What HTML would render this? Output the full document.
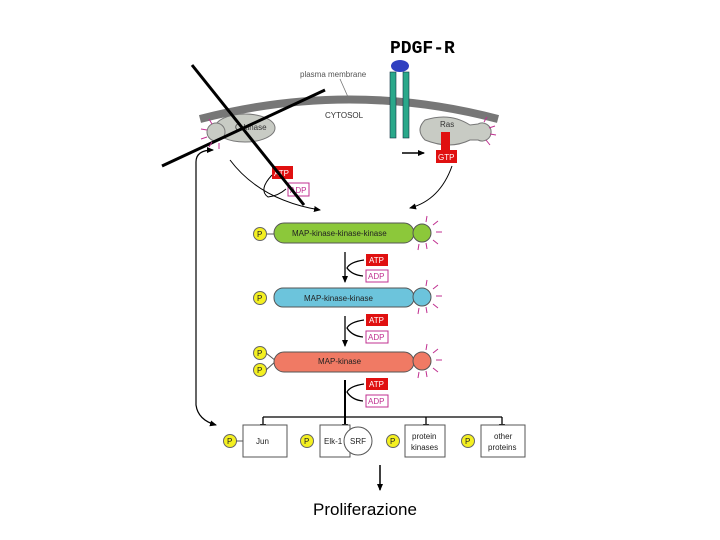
<!DOCTYPE html>
<html><head><style>body{margin:0;background:#fff}svg{display:block}</style></head><body>
<svg width="720" height="540" viewBox="0 0 720 540" xmlns="http://www.w3.org/2000/svg" font-family="Liberation Sans, sans-serif">
<defs><marker id="a" markerUnits="userSpaceOnUse" markerWidth="8" markerHeight="8" refX="6" refY="3" orient="auto"><path d="M0,0 L7,3 L0,6z" fill="#000"/></marker>
<marker id="s" markerUnits="userSpaceOnUse" markerWidth="8" markerHeight="8" refX="1" refY="3" orient="auto"><path d="M7,0 L0,3 L7,6z" fill="#000"/></marker></defs>
<text x="390" y="53" font-size="18" font-family="Liberation Mono, monospace" font-weight="bold">PDGF-R</text>
<text x="300" y="77" font-size="8" fill="#555">plasma membrane</text>
<line x1="340" y1="79" x2="348" y2="97" stroke="#777" stroke-width="0.8"/>
<path d="M200,119 Q350,80 498,119" stroke="#777" stroke-width="8" fill="none"/>
<text x="325" y="118" font-size="8" fill="#333">CYTOSOL</text>
<rect x="390" y="72" width="6" height="66" fill="#2aa88a" stroke="#134" stroke-width="0.6"/>
<rect x="403" y="72" width="6" height="66" fill="#2aa88a" stroke="#134" stroke-width="0.6"/>
<ellipse cx="400" cy="66" rx="9" ry="6" fill="#3040c0"/>
<ellipse cx="245" cy="128" rx="30" ry="14" fill="#c8cbc4" stroke="#777"/>
<circle cx="216" cy="132" r="9" fill="#c8cbc4" stroke="#777"/>
<text x="235" y="130" font-size="8" fill="#333">C-kinase</text>
<path d="M425,120 Q450,112 470,125 L478,124 A9 9 0 1 1 478,140 L470,140 Q450,150 425,140 Q415,130 425,120z" fill="#c8cbc4" stroke="#777"/>
<text x="440" y="127" font-size="8" fill="#333">Ras</text>
<rect x="441" y="132" width="9" height="18" fill="#e01010"/>
<rect x="436" y="150" width="21" height="13" fill="#e01010"/>
<text x="438" y="160" font-size="8" fill="#fff">GTP</text>
<line x1="402" y1="153" x2="424" y2="153" stroke="#000" stroke-width="1.5" marker-end="url(#a)"/>
<path d="M452,166 Q440,200 410,208" stroke="#000" fill="none" marker-end="url(#a)"/>
<path d="M230,160 Q260,200 320,210" stroke="#000" fill="none" marker-end="url(#a)"/>
<rect x="272" y="166" width="21" height="13" fill="#e01010"/>
<text x="274" y="176" font-size="8" fill="#fff">ATP</text>
<rect x="288" y="183" width="21" height="13" fill="#fff" stroke="#c03090"/>
<text x="290" y="193" font-size="8" fill="#c03090">ADP</text>
<path d="M272,175 Q258,190 268,197 Q278,196 286,189" stroke="#000" fill="none"/>
<line x1="192" y1="65" x2="304" y2="205" stroke="#000" stroke-width="3"/>
<line x1="162" y1="166" x2="325" y2="90" stroke="#000" stroke-width="3"/>
<path d="M213,150 Q196,150 196,162 L196,405 Q198,420 216,425" stroke="#000" stroke-width="1.2" fill="none" marker-start="url(#s)" marker-end="url(#a)"/>
<g font-size="8" fill="#222">
<line x1="266" y1="234" x2="276" y2="234" stroke="#555"/>
<circle cx="260" cy="234" r="6.5" fill="#f4f020" stroke="#666"/><text x="257" y="237">P</text>
<rect x="274" y="223" width="140" height="20" rx="10" fill="#8cc83a" stroke="#555"/>
<circle cx="422" cy="233" r="9" fill="#8cc83a" stroke="#555"/>
<text x="292" y="236">MAP-kinase-kinase-kinase</text>
<circle cx="260" cy="298" r="6.5" fill="#f4f020" stroke="#666"/><text x="257" y="301">P</text>
<rect x="274" y="288" width="140" height="19" rx="9" fill="#6cc4dc" stroke="#555"/>
<circle cx="422" cy="297" r="9" fill="#6cc4dc" stroke="#555"/>
<text x="304" y="301">MAP-kinase-kinase</text>
<circle cx="260" cy="353" r="6.5" fill="#f4f020" stroke="#666"/><text x="257" y="356">P</text>
<circle cx="260" cy="370" r="6.5" fill="#f4f020" stroke="#666"/><text x="257" y="373">P</text>
<path d="M266,353 L276,361 L266,370" stroke="#555" fill="none"/>
<rect x="274" y="352" width="140" height="20" rx="10" fill="#f07a64" stroke="#555"/>
<circle cx="422" cy="361" r="9" fill="#f07a64" stroke="#555"/>
<text x="318" y="364">MAP-kinase</text>
</g>
<g stroke="#c03090" stroke-width="1">
<path d="M426,222 l1,-6 M433,225 l5,-4 M436,232 l6,0 M433,240 l5,4 M426,243 l1,6 M419,244 l-1,6"/>
<path d="M426,286 l1,-6 M433,289 l5,-4 M436,296 l6,0 M433,304 l5,4 M426,307 l1,6 M419,308 l-1,6"/>
<path d="M426,350 l1,-6 M433,353 l5,-4 M436,360 l6,0 M433,368 l5,4 M426,371 l1,6 M419,372 l-1,6"/>
<path d="M212,124 l-3,-5 M207,130 l-6,-1 M207,137 l-6,2 M212,142 l-3,5 M219,143 l0,6"/>
<path d="M484,122 l3,-5 M489,128 l6,-2 M490,134 l6,1 M486,140 l4,5"/>
</g>
<g font-size="8">
<rect x="366" y="254" width="22" height="12" fill="#e01010"/><text x="369" y="263" fill="#fff">ATP</text>
<rect x="366" y="270" width="22" height="12" fill="#fff" stroke="#c03090"/><text x="368" y="279" fill="#c03090">ADP</text>
<rect x="366" y="314" width="22" height="12" fill="#e01010"/><text x="369" y="323" fill="#fff">ATP</text>
<rect x="366" y="331" width="22" height="12" fill="#fff" stroke="#c03090"/><text x="368" y="340" fill="#c03090">ADP</text>
<rect x="366" y="378" width="22" height="12" fill="#e01010"/><text x="369" y="387" fill="#fff">ATP</text>
<rect x="366" y="395" width="22" height="12" fill="#fff" stroke="#c03090"/><text x="368" y="404" fill="#c03090">ADP</text>
</g>
<g stroke="#000" fill="none" stroke-width="1.3">
<line x1="345" y1="252" x2="345" y2="282" marker-end="url(#a)"/>
<line x1="345" y1="316" x2="345" y2="346" marker-end="url(#a)"/>
<line x1="345" y1="380" x2="345" y2="430" stroke-width="2" marker-end="url(#a)"/>
<path d="M364,260 Q350,262 347,268 Q352,275 363,276"/>
<path d="M364,320 Q350,322 347,328 Q352,336 363,337"/>
<path d="M364,384 Q350,386 347,392 Q352,400 363,401"/>
<path d="M263,417 L502,417"/>
<line x1="263" y1="417" x2="263" y2="430" marker-end="url(#a)"/>
<line x1="426" y1="417" x2="426" y2="430" marker-end="url(#a)"/>
<line x1="502" y1="417" x2="502" y2="430" marker-end="url(#a)"/>
<line x1="380" y1="465" x2="380" y2="490" stroke-width="1.5" marker-end="url(#a)"/>
</g>
<g font-size="8" fill="#222">
<circle cx="230" cy="441" r="6.5" fill="#f4f020" stroke="#666"/><text x="227" y="444">P</text>
<line x1="236" y1="441" x2="243" y2="441" stroke="#555"/>
<rect x="243" y="425" width="44" height="32" fill="#fff" stroke="#555"/><text x="256" y="444">Jun</text>
<circle cx="307" cy="441" r="6.5" fill="#f4f020" stroke="#666"/><text x="304" y="444">P</text>
<rect x="320" y="425" width="30" height="32" fill="#fff" stroke="#555"/><text x="324" y="444">Elk-1</text>
<circle cx="358" cy="441" r="14" fill="#fff" stroke="#555"/><text x="350" y="444">SRF</text>
<circle cx="393" cy="441" r="6.5" fill="#f4f020" stroke="#666"/><text x="390" y="444">P</text>
<rect x="405" y="425" width="40" height="32" fill="#fff" stroke="#555"/><text x="412" y="439">protein</text><text x="411" y="450">kinases</text>
<circle cx="468" cy="441" r="6.5" fill="#f4f020" stroke="#666"/><text x="465" y="444">P</text>
<rect x="481" y="425" width="44" height="32" fill="#fff" stroke="#555"/><text x="494" y="439">other</text><text x="488" y="450">proteins</text>
</g>
<text x="313" y="515" font-size="17">Proliferazione</text>
</svg>
</body></html>
